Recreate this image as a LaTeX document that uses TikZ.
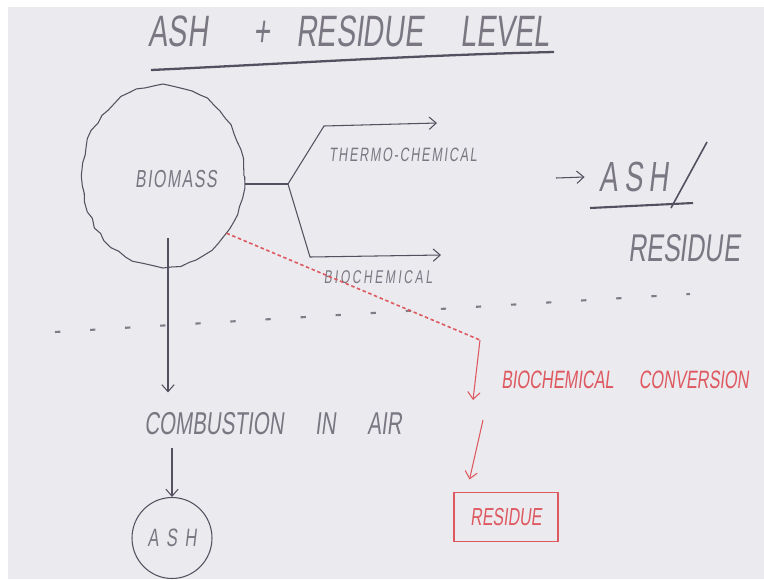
\documentclass[tikz,border=0pt]{standalone}
\usepackage{fontspec}
\usepackage{tikz}
\usetikzlibrary{positioning,arrows.meta,shapes.geometric,decorations.pathmorphing}
\newfontfamily\arhand[FakeStretch=0.65,FakeSlant=0.12]{Liberation Sans}
\definecolor{arpaper}{RGB}{235,234,238}
\definecolor{arpencil}{RGB}{84,80,96}
\definecolor{arredpen}{RGB}{222,88,96}
\newcommand{\arSize}[1]{\fontsize{#1}{#1}\selectfont}
\newcommand{\arSpace}[1]{\addfontfeature{LetterSpace=#1}}
\tikzset{
  artxt/.style={inner sep=0pt, text=arpencil!78},
  arrel/.style={draw=arpencil, line width=0.6pt},
  arto/.style={arrel, -{Straight Barb[length=4pt,width=7pt]}},
  arredto/.style={draw=arredpen, line width=0.6pt, -{Straight Barb[length=4pt,width=7pt]}},
  arreddash/.style={draw=arredpen, line width=0.9pt, dash pattern=on 2pt off 1.5pt},
  ardiv/.style={draw=arpencil!75, line width=1.2pt, dash pattern=on 3pt off 17pt},
  arblob/.style={ellipse, draw=arpencil, line width=0.6pt, decorate,
                 decoration={random steps, segment length=5pt, amplitude=0.8pt}},
}

\begin{document}
\pgfmathsetseed{7}
\begin{tikzpicture}[x=0.02cm, y=-0.02cm]
  \useasboundingbox (0,0) rectangle (764,579);
  \fill[white] (0,0) rectangle (764,579);
  \fill[arpaper] (8,7) rectangle (764,579);

  \node[artxt, font={\arhand\arSize{25}}] (title) at (349,31)
    {ASH\hspace{26pt}+\hspace{15pt}RESIDUE\hspace{21pt}LEVEL};
  \draw[arrel, line width=1.3pt] (151,70) .. controls (280,64) and (420,55) .. (554,52);

  \node[arblob, minimum width=3.24cm, minimum height=3.64cm] (bio) at (163,176) {};
  \node[artxt, font={\arhand\arSize{14}\arSpace{6}}] (biotxt) at (176,179) {BIOMASS};
  \coordinate (fork) at (288,184);
  \coordinate (thermok) at (324,126);
  \coordinate (thermo) at (437,123);
  \coordinate (biochk) at (310,257);
  \coordinate (biochend) at (441,255);
  \draw[arrel] (fork -| bio.east) -- (fork);
  \draw[arto] (fork) -- (thermok) -- (thermo);
  \draw[arto] (fork) -- (biochk) -- (biochend);
  \node[artxt, font={\arhand\arSize{11}\arSpace{9}}] (thermotxt) at (403,155) {THERMO-CHEMICAL};
  \node[artxt, font={\arhand\arSize{10.5}\arSpace{14}}] (biochtxt) at (378,277) {BIOCHEMICAL};

  \coordinate (ashin) at (556,178);
  \node[artxt, font={\arhand\arSize{24}\arSpace{14}}] (ashr) at (634,177) {ASH};
  \draw[arto] (ashin) -- ([xshift=-0.3cm]ashr.west);
  \draw[arrel, line width=0.9pt] (707,142) -- (671,208);
  \draw[arrel, line width=1.2pt] (590,208) -- (693,203);
  \node[artxt, font={\arhand\arSize{22}}] (resr) at (684,248) {RESIDUE};

  \draw[ardiv] (55,332) -- (690,294);

  \coordinate (bioin) at (168,238);
  \node[artxt, font={\arhand\arSize{18}}] (comb) at (273,424) {COMBUSTION\quad IN\quad AIR};
  \draw[arto, shorten >=0.4cm] (bioin) -- (bioin |- comb.north);
  \node[artxt, ellipse, draw=arpencil, line width=0.6pt, minimum width=1.6cm, minimum height=1.62cm,
        font={\arhand\arSize{14.3}\arSpace{30}}] (ash) at (172,538) {ASH};
  \draw[arto, shorten <=0.25cm] (ash.north |- comb.south) -- (ash.north);

  \coordinate (bend) at (480,340);
  \coordinate (convin) at (473,400);
  \coordinate (convout) at (483,420);
  \draw[arreddash] (bio.-42) -- (bend);
  \draw[arredto] (bend) -- (convin);
  \node[artxt, text=arredpen, font={\arhand\arSize{14.3}}] (conv) at (625,380) {BIOCHEMICAL\quad CONVERSION};
  \node[artxt, text=arredpen, draw=arredpen, line width=0.6pt, minimum width=2.08cm, minimum height=0.98cm,
        font={\arhand\arSize{14}}] (resbox) at (506,517) {RESIDUE};
  \draw[arredto] (convout) -- ([xshift=0.32cm, yshift=0.25cm]resbox.north west);
\end{tikzpicture}
\end{document}
